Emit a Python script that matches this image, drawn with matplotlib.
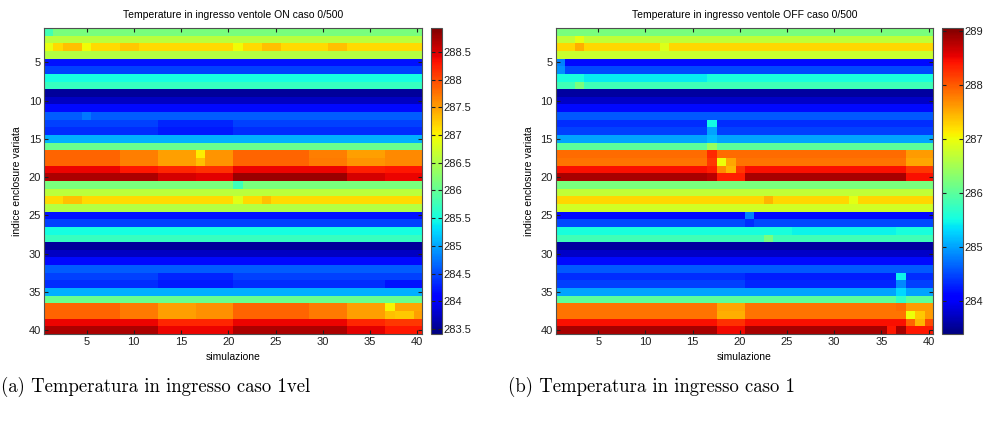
import matplotlib
import matplotlib.pyplot as plt
import numpy as np

matplotlib.use("Agg")

# row-wise base temperatures (rows 1..40, one value per "indice enclosure variata")
ROWS_ON = [
    286.15, 286.6, 287.15, 286.55, 284.2, 284.45, 285.5, 285.7, 283.55, 283.75,
    284.15, 284.6, 284.45, 284.35, 285.05, 286.05, 287.85, 287.85, 288.4, 288.7,
    286.15, 286.6, 287.15, 286.55, 284.2, 284.45, 285.5, 285.7, 283.55, 283.75,
    284.15, 284.6, 284.45, 284.35, 285.05, 286.05, 287.85, 287.85, 288.4, 288.7,
]
ROWS_OFF = [
    286.2, 286.7, 287.25, 286.75, 284.15, 284.5, 285.55, 285.8, 283.55, 283.75,
    284.15, 284.6, 284.35, 284.45, 285.0, 286.0, 287.9, 287.85, 288.45, 288.85,
    286.2, 286.7, 287.25, 286.8, 284.15, 284.5, 285.55, 285.8, 283.55, 283.75,
    284.15, 284.6, 284.35, 284.45, 285.0, 286.0, 287.85, 287.85, 288.45, 288.85,
]

# deviations: (row, first col, last col, value), 1-based
SEG_ON = [
    (1, 1, 1, 285.8), (3, 1, 1, 286.9), (3, 3, 4, 287.3), (3, 5, 5, 286.95),
    (3, 9, 10, 287.25), (3, 21, 21, 286.95), (3, 24, 25, 287.3), (3, 31, 32, 287.3),
    (12, 5, 5, 284.75), (13, 13, 20, 284.3), (14, 13, 20, 284.25),
    (17, 9, 12, 287.7), (18, 9, 12, 287.7), (19, 9, 12, 288.3),
    (17, 13, 16, 287.5), (18, 13, 16, 287.5), (19, 13, 16, 288.2), (20, 13, 16, 288.5),
    (17, 17, 17, 287.05), (18, 17, 17, 287.3),
    (17, 18, 20, 287.55), (18, 18, 20, 287.55), (19, 17, 20, 288.15), (20, 17, 20, 288.45),
    (20, 21, 32, 288.78),
    (17, 29, 32, 287.7), (18, 29, 32, 287.72),
    (17, 33, 36, 287.5), (18, 33, 36, 287.55), (19, 33, 36, 288.25), (20, 33, 36, 288.5),
    (17, 37, 40, 287.62), (18, 37, 40, 287.62), (19, 37, 40, 288.3), (20, 37, 40, 288.4),
    (21, 21, 21, 285.75), (23, 21, 21, 286.85), (23, 24, 24, 287.3), (23, 3, 4, 287.3),
    (33, 13, 20, 284.3), (34, 13, 20, 284.25), (34, 37, 40, 284.2),
    (37, 9, 12, 287.72), (38, 9, 12, 287.72), (37, 13, 16, 287.5), (38, 13, 16, 287.5),
    (37, 17, 20, 287.58), (38, 17, 20, 287.58), (39, 13, 20, 288.2), (40, 13, 20, 288.4),
    (37, 29, 32, 287.72), (38, 29, 32, 287.72),
    (37, 33, 36, 287.5), (38, 33, 36, 287.5), (39, 33, 36, 288.2), (40, 33, 36, 288.45),
    (37, 37, 37, 287.0), (37, 38, 40, 287.45), (38, 37, 37, 287.3), (38, 38, 39, 287.25),
    (38, 40, 40, 287.5), (39, 37, 40, 288.1), (40, 37, 40, 288.3),
]
SEG_OFF = [
    (2, 3, 3, 286.95), (3, 3, 3, 287.5), (3, 12, 12, 286.9),
    (5, 1, 1, 284.8), (6, 1, 1, 284.9), (7, 4, 16, 285.42), (8, 3, 3, 286.2),
    (13, 17, 17, 285.5), (14, 17, 17, 285.0), (15, 17, 17, 285.15), (16, 17, 17, 286.4),
    (17, 17, 17, 288.3), (18, 17, 17, 288.2), (18, 18, 18, 287.0), (18, 19, 19, 287.55),
    (19, 17, 17, 288.35), (19, 18, 18, 287.7), (19, 19, 19, 287.45), (19, 20, 20, 288.2),
    (20, 17, 17, 288.75), (20, 18, 20, 288.35),
    (17, 38, 40, 287.6), (18, 38, 40, 287.55), (19, 38, 40, 288.2), (20, 38, 40, 288.45),
    (23, 23, 23, 287.45), (23, 32, 32, 286.95),
    (25, 21, 21, 284.8), (26, 21, 21, 284.35), (27, 26, 36, 285.45), (28, 23, 23, 286.2),
    (33, 21, 36, 284.25), (34, 21, 36, 284.3),
    (33, 37, 37, 285.45), (34, 37, 37, 284.85), (35, 37, 37, 285.3), (36, 37, 37, 285.7),
    (37, 18, 20, 287.55), (38, 18, 20, 287.5), (39, 18, 20, 288.25), (40, 18, 20, 288.5),
    (37, 37, 37, 287.9), (37, 38, 40, 287.6),
    (38, 38, 38, 287.0), (38, 39, 39, 287.35), (38, 40, 40, 287.6),
    (39, 38, 38, 287.95), (39, 39, 39, 287.45), (39, 40, 40, 288.1),
    (40, 36, 36, 288.4), (40, 37, 37, 288.85), (40, 38, 40, 288.4),
]

N_SIM = 40
TICKS = [5, 10, 15, 20, 25, 30, 35, 40]
CB_TICKS_ON = [283.5, 284, 284.5, 285, 285.5, 286, 286.5, 287, 287.5, 288, 288.5]
CB_TICKS_OFF = [284, 285, 286, 287, 288, 289]

FRAME = "#505050"


def build_matrix(rows, segments):
    data = np.repeat(np.array(rows, dtype=float)[:, None], N_SIM, axis=1)
    for r, c0, c1, v in segments:
        data[r - 1, c0 - 1:c1] = v
    return data


def draw_panel(fig, ax_rect, cb_rect, data, vmin, vmax, cb_ticks, title):
    ax = fig.add_axes(ax_rect)
    im = ax.imshow(data, cmap="jet", vmin=vmin, vmax=vmax, aspect="auto",
                   interpolation="nearest", extent=[0.5, 40.5, 40.5, 0.5])
    ax.set_xticks(TICKS)
    ax.set_yticks(TICKS)
    ax.tick_params(direction="in", top=True, right=True, length=3, width=0.8,
                   labelsize=8, colors="#202020", pad=2)
    for spine in ax.spines.values():
        spine.set_edgecolor(FRAME)
        spine.set_linewidth(0.8)
    ax.set_title(title, fontsize=7.5, pad=7)
    ax.set_xlabel("simulazione", fontsize=7.5, labelpad=4)
    ax.set_ylabel("indice enclosure variata", fontsize=7.5, labelpad=5)

    cax = fig.add_axes(cb_rect)
    cb = fig.colorbar(im, cax=cax)
    cb.set_ticks(cb_ticks)
    cb.ax.yaxis.set_major_formatter(plt.FuncFormatter(lambda x, p: f"{x:g}"))
    cb.ax.tick_params(direction="in", left=True, right=True, length=3, width=0.8,
                      labelsize=8, colors="#202020", pad=1)
    cb.outline.set_edgecolor(FRAME)
    cb.outline.set_linewidth(0.8)
    return ax


fig = plt.figure(figsize=(9.86, 4.32), dpi=100)
fig.patch.set_facecolor("white")
plt.rcParams["font.family"] = ["Liberation Sans", "DejaVu Sans"]

data_on = build_matrix(ROWS_ON, SEG_ON)
data_off = build_matrix(ROWS_OFF, SEG_OFF)

draw_panel(fig, [0.0446, 0.227, 0.3834, 0.708], [0.437, 0.227, 0.0112, 0.708],
           data_on, 283.41, 288.93, CB_TICKS_ON,
           "Temperature in ingresso ventole ON caso 0/500")
draw_panel(fig, [0.5636, 0.227, 0.383, 0.708], [0.955, 0.227, 0.0219, 0.708],
           data_off, 283.38, 289.06, CB_TICKS_OFF,
           "Temperature in ingresso ventole OFF caso 0/500")

fig.text(0.001, 0.105, "(a) Temperatura in ingresso caso 1vel", fontsize=13.5,
         family="cmr10", ha="left", va="center")
fig.text(0.515, 0.105, "(b) Temperatura in ingresso caso 1", fontsize=13.5,
         family="cmr10", ha="left", va="center")

fig.savefig("out.png", dpi=100, facecolor="white")
plt.close(fig)
